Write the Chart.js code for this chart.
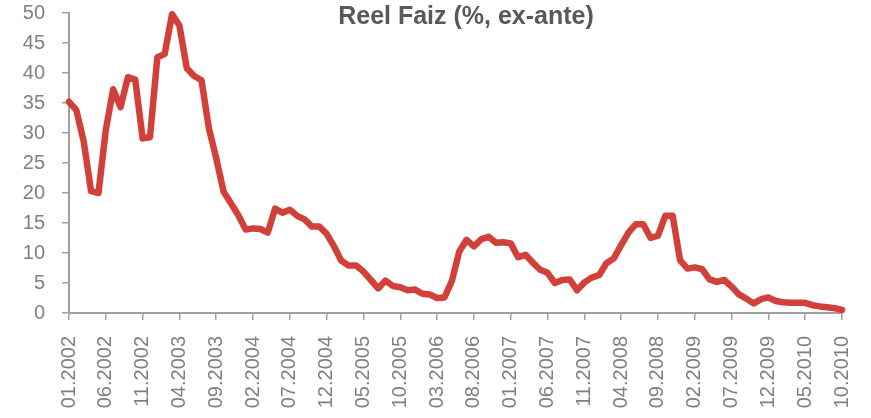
<!DOCTYPE html>
<html>
<head>
<meta charset="utf-8">
<script src="https://cdn.jsdelivr.net/npm/chart.js@4/dist/chart.umd.min.js"></script>
<style>
  html, body { margin: 0; padding: 0; background: #ffffff; }
  #wrap { width: 871px; height: 418px; position: relative; }
</style>
</head>
<body>
<div id="wrap"><canvas id="c" width="871" height="418"></canvas></div>
<script>
const chartTitle = "Reel Faiz (%, ex-ante)";

const categories = [
  "01.2002","02.2002","03.2002","04.2002","05.2002","06.2002","07.2002","08.2002","09.2002","10.2002","11.2002","12.2002",
  "01.2003","02.2003","03.2003","04.2003","05.2003","06.2003","07.2003","08.2003","09.2003","10.2003","11.2003","12.2003",
  "01.2004","02.2004","03.2004","04.2004","05.2004","06.2004","07.2004","08.2004","09.2004","10.2004","11.2004","12.2004",
  "01.2005","02.2005","03.2005","04.2005","05.2005","06.2005","07.2005","08.2005","09.2005","10.2005","11.2005","12.2005",
  "01.2006","02.2006","03.2006","04.2006","05.2006","06.2006","07.2006","08.2006","09.2006","10.2006","11.2006","12.2006",
  "01.2007","02.2007","03.2007","04.2007","05.2007","06.2007","07.2007","08.2007","09.2007","10.2007","11.2007","12.2007",
  "01.2008","02.2008","03.2008","04.2008","05.2008","06.2008","07.2008","08.2008","09.2008","10.2008","11.2008","12.2008",
  "01.2009","02.2009","03.2009","04.2009","05.2009","06.2009","07.2009","08.2009","09.2009","10.2009","11.2009","12.2009",
  "01.2010","02.2010","03.2010","04.2010","05.2010","06.2010","07.2010","08.2010","09.2010","10.2010"
];

const realRate = [
  35.2, 33.8, 28.6, 20.3, 20.0, 30.5, 37.3, 34.3, 39.3, 38.9, 29.1, 29.3,
  42.6, 43.2, 49.8, 47.9, 40.8, 39.5, 38.8, 30.8, 25.8, 20.2, 18.3, 16.3,
  13.9, 14.1, 14.0, 13.4, 17.4, 16.7, 17.2, 16.2, 15.6, 14.4, 14.4, 13.2,
  11.1, 8.7, 7.9, 7.9, 6.9, 5.5, 4.1, 5.4, 4.5, 4.3, 3.8, 3.9,
  3.2, 3.1, 2.5, 2.6, 5.3, 10.2, 12.2, 11.1, 12.3, 12.7, 11.7, 11.8,
  11.6, 9.3, 9.7, 8.4, 7.2, 6.7, 5.0, 5.5, 5.6, 3.8, 5.1, 5.9,
  6.3, 8.3, 9.1, 11.3, 13.4, 14.8, 14.8, 12.5, 12.9, 16.2, 16.2, 8.8,
  7.4, 7.6, 7.3, 5.6, 5.2, 5.5, 4.4, 3.1, 2.4, 1.6, 2.3, 2.6,
  2.0, 1.8, 1.7, 1.7, 1.7, 1.3, 1.1, 0.95, 0.8, 0.5
];

const yTicks = [0, 5, 10, 15, 20, 25, 30, 35, 40, 45, 50];
const xLabelEvery = 5;

const FONT = "'Liberation Sans', Arial, sans-serif";
const AXIS_GRAY = "#a0a0a0";
const TEXT_GRAY = "#808080";

const titlePlugin = {
  id: "customTitle",
  afterDraw(chart) {
    const ctx = chart.ctx;
    ctx.save();
    ctx.font = "bold 25px " + FONT;
    ctx.fillStyle = "#595959";
    ctx.textAlign = "center";
    ctx.textBaseline = "alphabetic";
    ctx.fillText(chartTitle, 466, 24);
    ctx.restore();
  }
};

new Chart(document.getElementById("c"), {
  type: "line",
  data: {
    labels: categories,
    datasets: [{
      label: chartTitle,
      data: realRate,
      borderColor: "#d2403a",
      backgroundColor: "#d2403a",
      borderWidth: 6.5,
      borderJoinStyle: "round",
      borderCapStyle: "round",
      tension: 0,
      pointRadius: 0,
      pointHoverRadius: 0,
      fill: false,
      clip: false
    }]
  },
  options: {
    responsive: false,
    animation: false,
    events: [],
    layout: { padding: { top: 13, left: 2, right: 29, bottom: 0 } },
    plugins: {
      legend: { display: false },
      title: { display: false },
      tooltip: { enabled: false }
    },
    scales: {
      x: {
        type: "category",
        offset: false,
        afterFit(s) {
          s.height = 105;
          s.paddingLeft = 0; s.paddingRight = 0;
        },
        grid: {
          display: true,
          drawOnChartArea: false,
          drawTicks: true,
          tickLength: 7,
          color: AXIS_GRAY,
          lineWidth: 1.5
        },
        border: { display: true, color: AXIS_GRAY, width: 2 },
        ticks: {
          autoSkip: false,
          maxRotation: 90,
          minRotation: 90,
          padding: 16,
          color: TEXT_GRAY,
          font: { family: FONT, size: 20 },
          callback(value, index) {
            return index % xLabelEvery === 0 ? categories[index] : null;
          }
        }
      },
      y: {
        min: 0,
        max: 50,
        afterFit(s) {
          s.width = 67;
          s.paddingTop = 0; s.paddingBottom = 0;
        },
        afterBuildTicks(s) { s.ticks = yTicks.map(v => ({ value: v })); },
        grid: {
          display: true,
          drawOnChartArea: false,
          drawTicks: true,
          tickLength: 7,
          color: AXIS_GRAY,
          lineWidth: 1.5
        },
        border: { display: true, color: AXIS_GRAY, width: 2 },
        ticks: {
          padding: 17,
          color: TEXT_GRAY,
          font: { family: FONT, size: 20 }
        }
      }
    }
  },
  plugins: [titlePlugin]
});
</script>
</body>
</html>
